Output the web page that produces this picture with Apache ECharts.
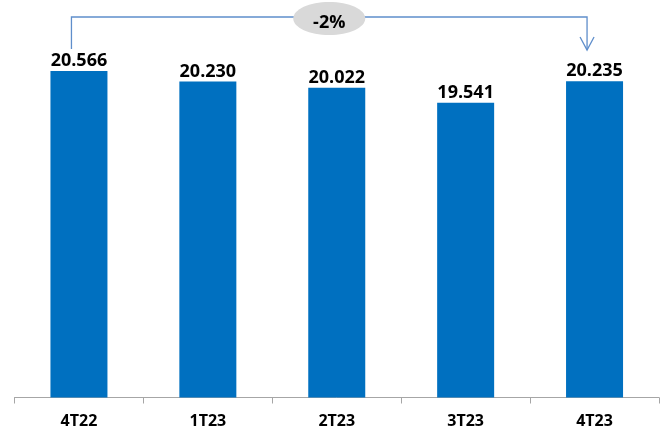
<!DOCTYPE html>
<html>
<head>
<meta charset="utf-8">
<script src="https://cdn.jsdelivr.net/npm/echarts@6/dist/echarts.min.js"></script>
<style>
  html, body { margin: 0; padding: 0; background: #fff; }
  #chart { width: 665px; height: 430px; }
</style>
</head>
<body>
<div id="chart"></div>
<script>
// Quarterly totals
const categories = ['4T22', '1T23', '2T23', '3T23', '4T23'];
const values = [20566, 20230, 20022, 19541, 20235];

const FONT = '"Open Sans", "Liberation Sans", sans-serif';
const BAR_COLOR = '#0070c0';
const BRACKET_COLOR = '#5f8ecb';

function fmt(v) {
  return String(v).replace(/\B(?=(\d{3})+(?!\d))/g, '.');
}

const chart = echarts.init(document.getElementById('chart'), null, { renderer: 'canvas' });

chart.setOption({
  animation: false,
  grid: { left: 14.5, right: 6, top: 26.7, bottom: 32.5 },
  xAxis: {
    type: 'category',
    data: categories,
    axisLine: { lineStyle: { color: '#a6a6a6', width: 1 } },
    axisTick: { show: true, length: 6, lineStyle: { color: '#a6a6a6' } },
    axisLabel: {
      color: '#000', fontFamily: FONT, fontWeight: 'bold', fontSize: 16, margin: 16
    }
  },
  yAxis: {
    type: 'value', min: 10000, max: 22000, show: false,
    splitLine: { show: false }
  },
  series: [{
    type: 'bar',
    data: values,
    barWidth: 57,
    itemStyle: { color: BAR_COLOR },
    label: {
      show: true, position: 'top', distance: 1,
      color: '#000', fontFamily: FONT, fontWeight: 'bold', fontSize: 18,
      formatter: p => fmt(p.value)
    }
  }]
});

// Change bracket from first to last quarter
function drawBracket() {
  const first = 0, last = values.length - 1;
  const x1 = chart.convertToPixel({ xAxisIndex: 0 }, categories[first]) - 7.5;
  const x2 = chart.convertToPixel({ xAxisIndex: 0 }, categories[last]) - 7.5;
  const yTop = 17;
  const y1 = chart.convertToPixel({ yAxisIndex: 0 }, values[first]) - 22;
  const y2 = y1 + 1;
  const change = Math.round((values[last] / values[first] - 1) * 100);
  const label = (change > 0 ? '+' : '') + change + '%';
  const cx = (x1 + x2) / 2;

  chart.setOption({
    graphic: [
      {
        type: 'polyline', silent: true,
        shape: { points: [[x1, y1], [x1, yTop], [x2, yTop], [x2, y2]] },
        style: { stroke: BRACKET_COLOR, lineWidth: 1.3, fill: null }
      },
      {
        type: 'polyline', silent: true,
        shape: { points: [[x2 - 7, y2 - 13], [x2, y2], [x2 + 7, y2 - 13]] },
        style: { stroke: BRACKET_COLOR, lineWidth: 1.3, fill: null }
      },
      {
        type: 'ellipse', silent: true,
        shape: { cx: cx, cy: 18.5, rx: 36, ry: 16.5 },
        style: { fill: '#d9d9d9', stroke: null }
      },
      {
        type: 'text', silent: true,
        x: cx, y: 22.5,
        style: {
          text: label, fill: '#000', font: 'bold 18px ' + FONT,
          textAlign: 'center', textVerticalAlign: 'middle'
        }
      }
    ]
  });
}
drawBracket();
</script>
</body>
</html>
